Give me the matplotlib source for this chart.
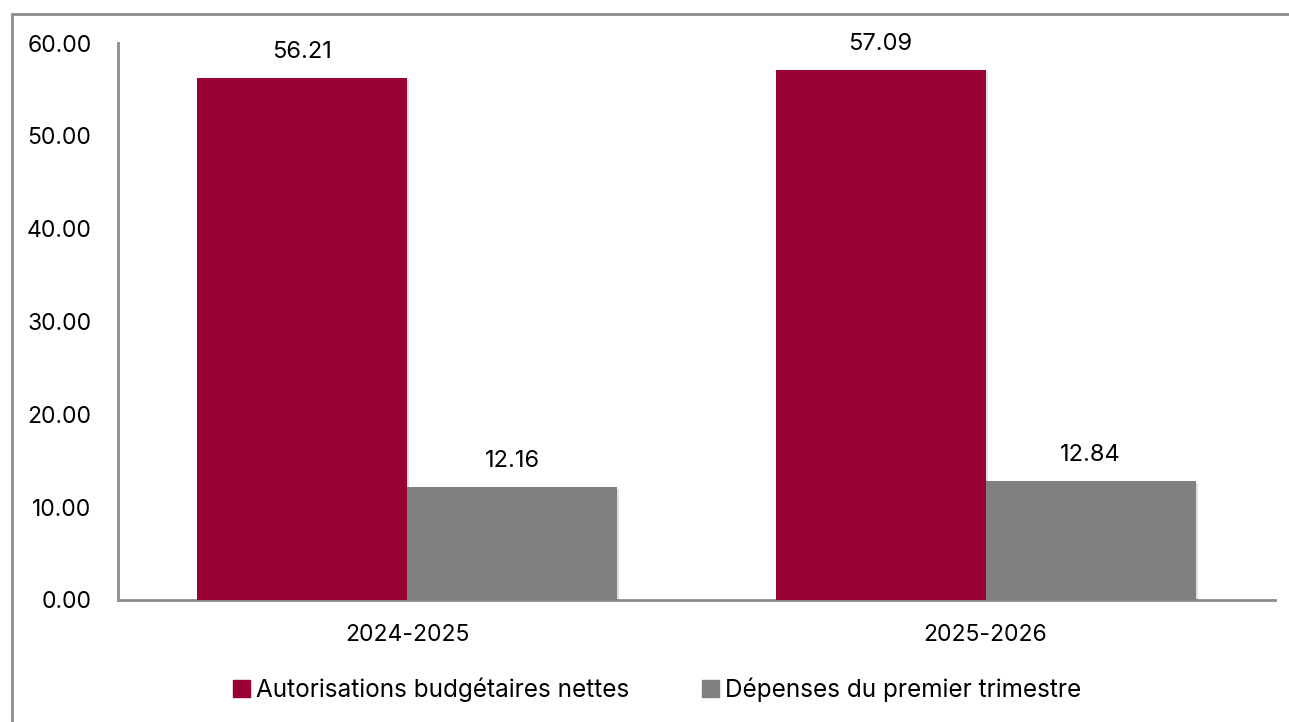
import matplotlib
matplotlib.use("Agg")
import matplotlib.pyplot as plt
import matplotlib.patheffects as pe
from matplotlib.patches import Rectangle, Patch
import numpy as np

# ---- data ----
years = ["2024-2025", "2025-2026"]
autorisations = [56.21, 57.09]
depenses = [12.16, 12.84]
series_names = ["Autorisations budgétaires nettes", "Dépenses du premier trimestre"]
colors = ["#990033", "#808080"]

plt.rcParams["font.family"] = ["Inter", "DejaVu Sans"]

fig = plt.figure(figsize=(12.89, 7.22), dpi=100)
ax = fig.add_axes([0.0915, 0.169, 0.8975, 0.7714])

# outer frame, cut off at right and bottom like the source
fig.add_artist(Rectangle((12 / 1289, -0.1), 1.2, 1 - 14 / 722 + 0.1,
                         transform=fig.transFigure, fill=False,
                         edgecolor="#8c8c8c", lw=2))

x = np.arange(len(years))
w = 0.363
shadow = [pe.SimplePatchShadow(offset=(1.5, -1.5), alpha=0.12, shadow_rgbFace="black"), pe.Normal()]
for vals, off, c, name in [(autorisations, -w / 2, colors[0], series_names[0]),
                           (depenses, w / 2, colors[1], series_names[1])]:
    bars = ax.bar(x + off, vals, w, color=c, label=name, zorder=3)
    for b, v in zip(bars, vals):
        b.set_path_effects(shadow)
        ax.annotate(f"{v:.2f}", (b.get_x() + b.get_width() / 2, v),
                    xytext=(0, 11), textcoords="offset points",
                    ha="center", va="bottom", fontsize=17)

ax.set_xlim(-0.5, 1.5)
ax.set_ylim(0, 60)
ax.set_yticks(np.arange(0, 61, 10))
ax.set_yticklabels([f"{t:.2f}" for t in np.arange(0, 61, 10)])
ax.set_xticks(x)
ax.set_xticklabels(years)
ax.tick_params(axis="y", length=0, pad=19, labelsize=16.5)
ax.tick_params(axis="x", length=0, pad=17, labelsize=16.5)
for s in ["top", "right"]:
    ax.spines[s].set_visible(False)
for s in ["left", "bottom"]:
    ax.spines[s].set_color("#8c8c8c")
    ax.spines[s].set_linewidth(2)

handles = [Patch(color=c) for c in colors]
fig.legend(handles, series_names, loc="center", bbox_to_anchor=(0.51, 0.044),
           ncol=2, frameon=False, fontsize=17.5, handlelength=0.7, handleheight=0.7,
           handletextpad=0.25, columnspacing=3.0)

fig.savefig("out.png", dpi=100)
